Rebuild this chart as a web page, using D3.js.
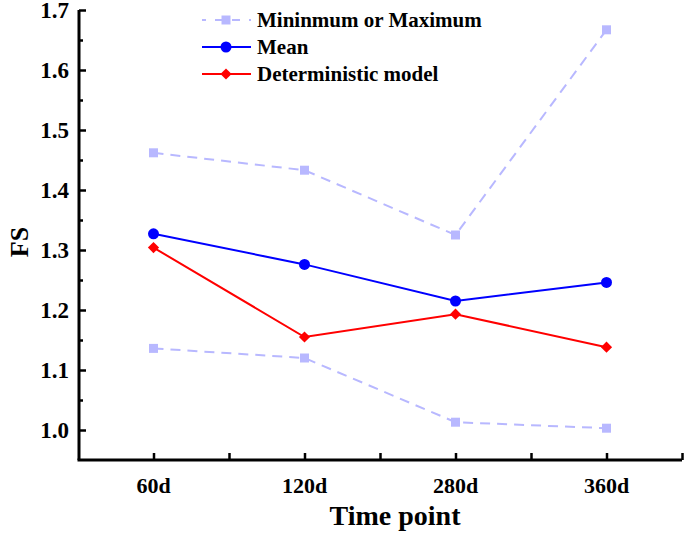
<!DOCTYPE html>
<html><head><meta charset="utf-8">
<script src="https://cdn.jsdelivr.net/npm/d3@7"></script>
<style>body{margin:0;background:#fff}svg{display:block}text{font-family:"Liberation Serif","Times New Roman",serif;font-weight:bold;fill:#000}</style>
</head><body><svg id="c" width="685" height="536"></svg>
<script>
const categories = ["60d","120d","280d","360d"];
const maxValues = [1.462, 1.433, 1.325, 1.667];
const minValues = [1.136, 1.120, 1.013, 1.003];
const meanValues = [1.327, 1.276, 1.215, 1.246];
const detValues = [1.304, 1.155, 1.193, 1.138];
const yTicks = [1.0,1.1,1.2,1.3,1.4,1.5,1.6,1.7];
const legendLabels = ["Mininmum or Maximum","Mean","Deterministic model"];

const svg = d3.select("#c");
const x = d3.scaleLinear().domain([-0.5, 3.5]).range([78, 682]);
const y = d3.scaleLinear().domain([0.95, 1.7]).range([460, 10]);
const lightBlue = "#b8b8ff", blue = "#0000ff", red = "#ff0000";

// axes
const yAxis = svg.append("g").attr("transform","translate(79,0)")
  .call(d3.axisRight(y).tickValues(d3.range(0.95,1.7001,0.05)).tickSize(7).tickFormat(""));
yAxis.select(".domain").attr("stroke","#000").attr("stroke-width",3).attr("d","M0,10V460");
yAxis.selectAll(".tick line").attr("stroke","#000").attr("stroke-width",2.5)
  .attr("x2", (d)=> (Math.round(d*100)%10===0 ? 7 : 4));
yAxis.selectAll(".tick").filter(d=>Math.abs(d-0.95)<1e-6).remove();

svg.append("g").selectAll("text").data(yTicks).join("text")
  .attr("x",69).attr("y",d=>y(d)).attr("dy","0.36em").attr("text-anchor","end")
  .attr("font-size",23).text(d=>d.toFixed(1));

const xAxis = svg.append("g").attr("transform","translate(0,460)")
  .call(d3.axisTop(x).tickValues(d3.range(-0.5,3.501,0.5)).tickSize(7).tickFormat(""));
xAxis.select(".domain").attr("d","M77.5,0H682").attr("stroke","#000").attr("stroke-width",3);
xAxis.selectAll(".tick line").attr("stroke","#000").attr("stroke-width",2.5);
xAxis.selectAll(".tick").filter(d=>Math.abs(d+0.5)<1e-6).remove();

svg.append("g").selectAll("text").data(categories).join("text")
  .attr("x",(d,i)=>x(i)).attr("y",493).attr("text-anchor","middle")
  .attr("font-size",22).text(d=>d);

svg.append("text").attr("x",395).attr("y",525).attr("text-anchor","middle")
  .attr("font-size",28).text("Time point");
svg.append("text").attr("transform","translate(28,242) rotate(-90)").attr("text-anchor","middle")
  .attr("font-size",26).text("FS");

const line = d3.line().x((d,i)=>x(i)).y(d=>y(d));
function series(vals, color, dash, width){
  svg.append("path").datum(vals).attr("d",line).attr("fill","none")
    .attr("stroke",color).attr("stroke-width",width).attr("stroke-dasharray",dash);
}
series(maxValues, lightBlue, "10,7", 2);
series(minValues, lightBlue, "10,7", 2);
series(meanValues, blue, null, 2);
series(detValues, red, null, 2);

const sq = d3.symbol().type(d3.symbolSquare).size(81);
const ci = d3.symbol().type(d3.symbolCircle).size(95);
const di = d3.symbol().type(d3.symbolDiamond2).size(80);
function marks(vals, sym, color){
  svg.append("g").selectAll("path").data(vals).join("path")
    .attr("transform",(d,i)=>`translate(${x(i)},${y(d)})`)
    .attr("d",sym).attr("fill",color);
}
marks(maxValues, sq, lightBlue);
marks(minValues, sq, lightBlue);
marks(meanValues, ci, blue);
marks(detValues, di, red);

// legend
const legend = [
  {label:legendLabels[0], color:lightBlue, dash:"8,9", sym:sq},
  {label:legendLabels[1], color:blue, dash:null, sym:ci},
  {label:legendLabels[2], color:red, dash:null, sym:di}];
legend.forEach((l,i)=>{
  const ly = 20 + i*27;
  svg.append("line").attr("x1",202).attr("x2",251).attr("y1",ly).attr("y2",ly)
    .attr("stroke",l.color).attr("stroke-width",2).attr("stroke-dasharray",l.dash)
    .attr("stroke-dashoffset", l.dash ? 4 : 0);
  svg.append("path").attr("d",l.sym).attr("fill",l.color)
    .attr("transform",`translate(226,${ly})`);
  svg.append("text").attr("x",257).attr("y",ly).attr("dy","0.35em").attr("font-size",21).text(l.label);
});
</script></body></html>
